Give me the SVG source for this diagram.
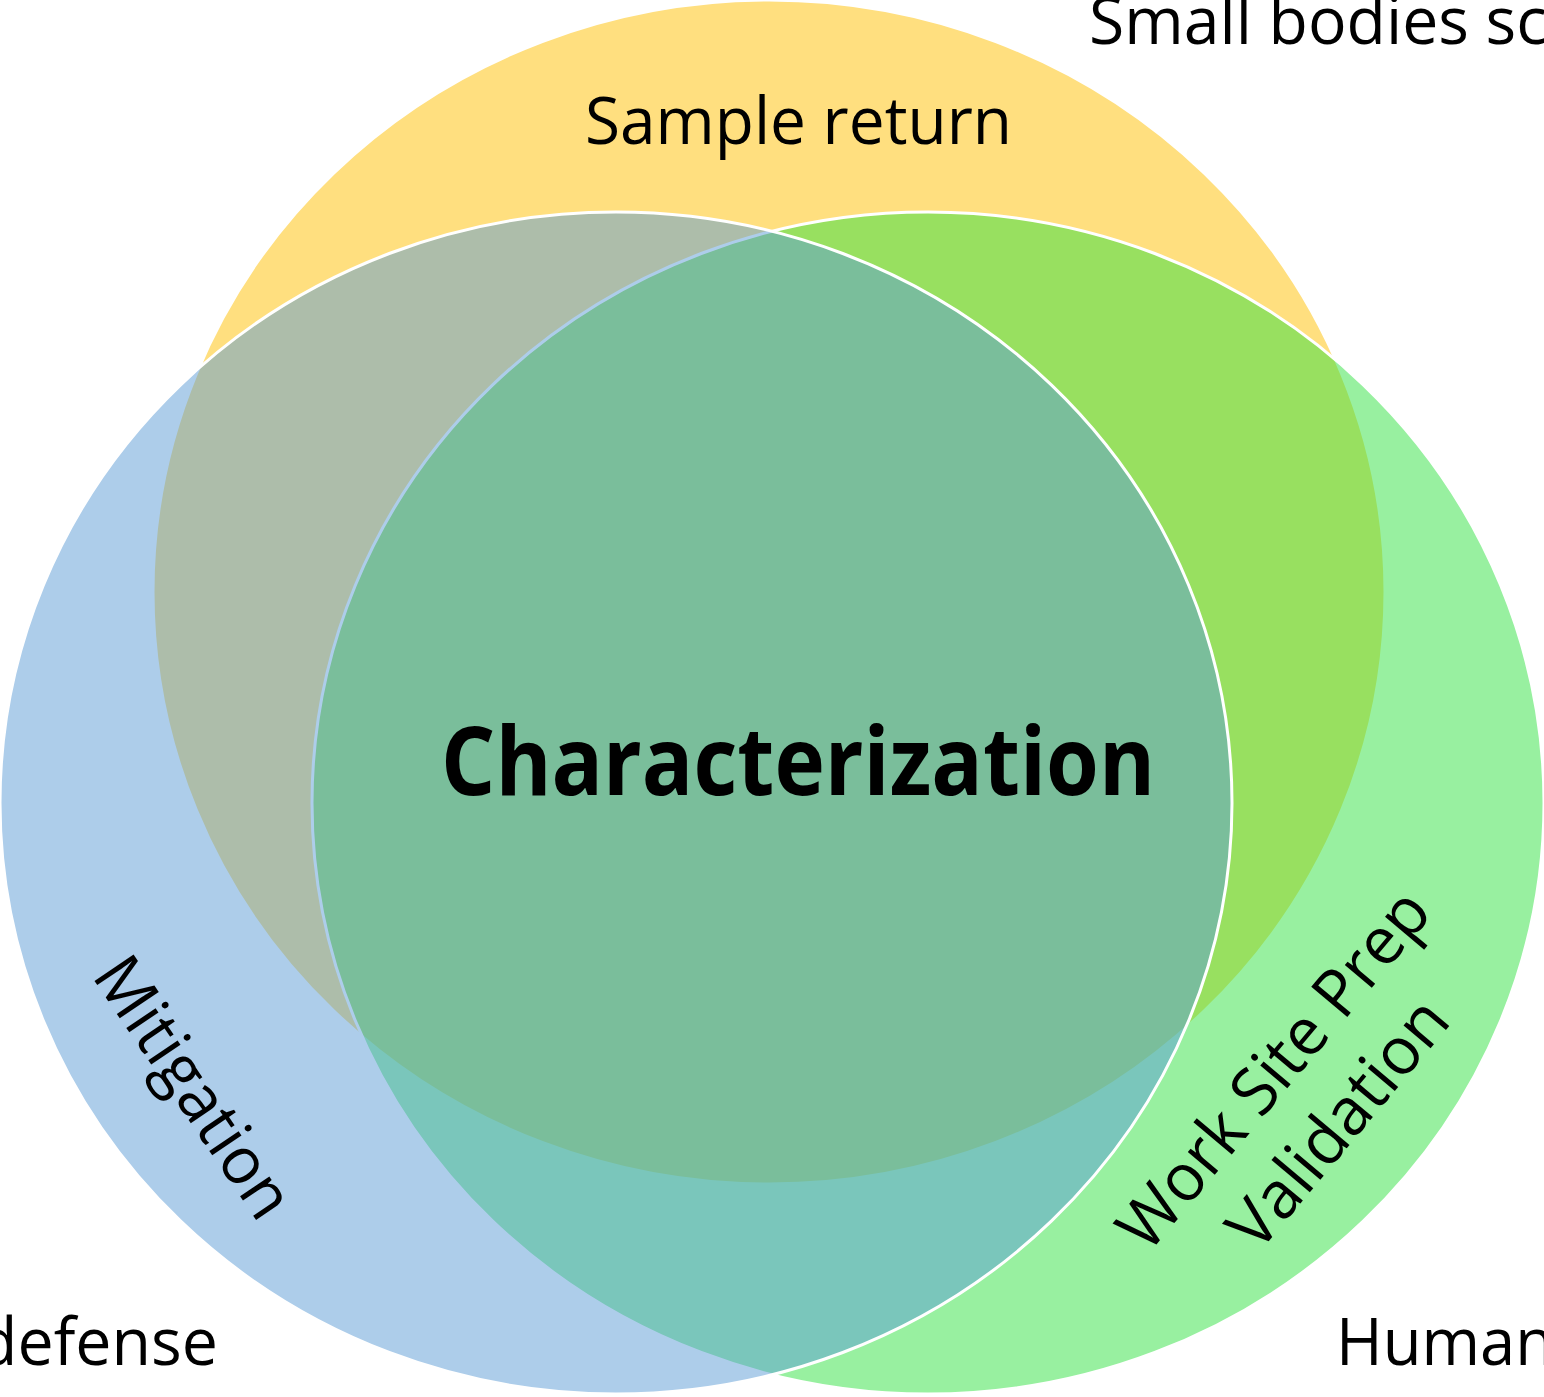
<svg xmlns="http://www.w3.org/2000/svg" width="1544" height="1397" viewBox="0 0 1544 1397">
  <style>
    .set { stroke: #FFFFFF; stroke-width: 3; fill-opacity: 0.5; }
    .lbl { font-family: "Open Sans", "Noto Sans", "Liberation Sans", sans-serif; font-size: 66px; fill: #000000; }
    .main { font-family: "Open Sans", "Noto Sans", "Liberation Sans", sans-serif; font-size: 95px; font-weight: bold; fill: #000000; }
  </style>
  <rect x="0" y="0" width="1544" height="1397" fill="#FFFFFF"/>

  <g id="small-bodies-science">
    <ellipse class="set" cx="769" cy="592" rx="616" ry="592" fill="#FFC000"/>
  </g>
  <g id="human-exploration">
    <ellipse class="set" cx="928" cy="803" rx="616" ry="591" fill="#31E141"/>
  </g>
  <g id="planetary-defense">
    <ellipse class="set" cx="616" cy="803" rx="616" ry="591" fill="#5B9BD5"/>
  </g>

  <g id="labels">
    <text class="lbl" x="1089" y="44" textLength="458" lengthAdjust="spacingAndGlyphs">Small bodies sc</text>
    <text class="lbl" x="585" y="144" textLength="427" lengthAdjust="spacingAndGlyphs">Sample return</text>
    <text class="lbl" x="-22" y="1365" textLength="240" lengthAdjust="spacingAndGlyphs">defense</text>
    <text class="lbl" x="1336" y="1365" textLength="218" lengthAdjust="spacingAndGlyphs">Human</text>
    <text class="lbl" transform="translate(175,1100) rotate(56)" x="0" y="0" text-anchor="middle" textLength="300" lengthAdjust="spacingAndGlyphs">Mitigation</text>
    <g transform="translate(1291,1084) rotate(-50)">
      <text class="lbl" x="0" y="0" text-anchor="middle" textLength="445" lengthAdjust="spacingAndGlyphs">Work Site Prep</text>
      <text class="lbl" x="0" y="84" text-anchor="middle" textLength="303" lengthAdjust="spacingAndGlyphs">Validation</text>
    </g>
  </g>

  <g id="characterization">
    <text class="main" x="441" y="795" textLength="714" lengthAdjust="spacingAndGlyphs">Characterization</text>
  </g>
</svg>
